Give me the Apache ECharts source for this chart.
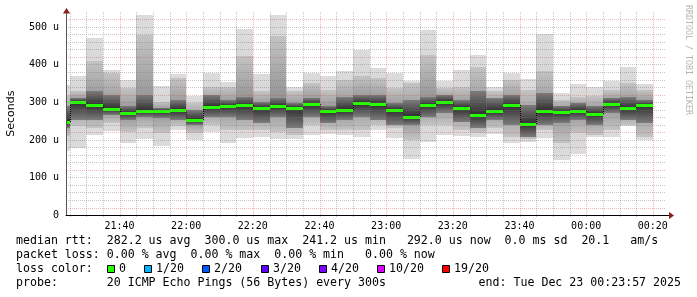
<!DOCTYPE html>
<html><head><meta charset="utf-8">
<script src="https://cdn.jsdelivr.net/npm/echarts@6/dist/echarts.min.js"></script>
<style>html,body{margin:0;padding:0;background:#fff}#c{width:697px;height:297px}</style>
</head><body><div id="c"></div>
<script>
// ---- data: one 5-minute step per entry (end time of the step) ----
const binEnd = ['21:25','21:30','21:35','21:40','21:45','21:50','21:55','22:00','22:05','22:10','22:15','22:20',
  '22:25','22:30','22:35','22:40','22:45','22:50','22:55','23:00','23:05','23:10','23:15','23:20',
  '23:25','23:30','23:35','23:40','23:45','23:50','23:55','00:00','00:05','00:10','00:15','00:20'];
// ping distribution per step (microseconds): min, inner quantiles, median, max
const rttMin = [170,178,214,225,191,202,183,227,200,220,193,205,207,202,202,213,216,213,209,227,206,150,196,213,211,207,216,191,196,205,147,163,209,207,236,200];
const rttLo1 = [210,236,231,245,222,231,218,236,218,240,227,227,227,222,214,240,227,227,227,240,231,200,240,240,227,218,231,209,202,227,192,218,213,227,240,209];
const rttLo2 = [232,253,253,267,253,262,258,253,240,262,262,253,245,262,231,262,245,253,262,253,240,240,262,271,249,231,253,240,208,240,245,253,240,271,253,245];
const rttMedian = [249,300.0,294,282,273,278,278,281,253,287,290,293,286,290,285,296,276,281,298,296,280,262,294,300,284,267,278,293,241.2,278,275,278,269,295,285,292];
const rttHi2 = [290,311,330,320,289,320,284,305,280,320,307,315,302,311,298,311,289,315,320,320,298,307,315,320,307,329,311,320,293,324,289,298,289,311,315,307];
const rttHi1 = [320,329,409,378,338,480,302,364,298,342,342,422,329,475,329,351,333,360,369,364,338,351,426,338,342,395,329,360,333,382,307,315,317,333,351,333];
const rttMax = [345,369,471,385,360,533,344,376,317,379,355,495,376,533,340,378,369,382,440,391,379,358,491,358,386,426,340,379,362,482,324,349,340,358,393,349];
const stepMinutes = 5;
const startTime = '21:23:57', endTime = '00:23:57';
const xTickLabels = ['21:40','22:00','22:20','22:40','23:00','23:20','23:40','00:00','00:20'];
const yTickValues = [0,100,200,300,400,500];
const yTickLabels = ['0','100 u','200 u','300 u','400 u','500 u'];
const lossLabels = ['0','1/20','2/20','3/20','4/20','10/20','19/20'];
const lossColors = ['#26ff00','#00b8ff','#0059ff','#5e00ff','#7e00ff','#dd00ff','#ff0000'];
const legendLines = [
  'median rtt:  282.2 us avg  300.0 us max  241.2 us min   292.0 us now  0.0 ms sd  20.1   am/s',
  'packet loss: 0.00 % avg  0.00 % max  0.00 % min   0.00 % now',
  'loss color:',
  'probe:       20 ICMP Echo Pings (56 Bytes) every 300s'
];
const endText = 'end: Tue Dec 23 00:23:57 2025';

// ---- helpers ----
function toMin(s){ const p = s.split(':').map(Number); let m = p[0]*60 + p[1] + (p[2]||0)/60; if (p[0] < 12) m += 1440; return m; }
function fmt(m){ m = Math.round(m) % 1440; const h = Math.floor(m/60), mm = m%60; return String(h).padStart(2,'0')+':'+String(mm).padStart(2,'0'); }
const xMin = toMin(startTime), xMax = toMin(endTime);
const xTickValues = xTickLabels.map(toMin);

// smoke shades: [edge colour, colour towards the median]
const SMOKE = [['#dcdcdc','#d2d2d2'], ['#c4c4c4','#8e8e8e'], ['#7c7c7c','#2e2e2e']];
const MEDIAN_COLOR = '#26ff00';
const MAJOR = 'rgba(220,60,60,0.36)';
const MINOR = 'rgba(120,120,120,0.42)';
const MONO = 'DejaVu Sans Mono';

const G = {left:66, top:12, width:600, height:203.3};

const smokeData = binEnd.map((t,i) => [toMin(t)-stepMinutes, toMin(t), rttMin[i], rttLo1[i], rttLo2[i], rttMedian[i], rttHi2[i], rttHi1[i], rttMax[i]]);
const gridTimes = [];
for (let t = Math.ceil(xMin/5)*5; t <= xMax; t += 5) gridTimes.push([t, 0]);

function renderSmoke(params, api){
  const i = params.dataIndex, cs = params.coordSys;
  const x0 = Math.round(api.coord([api.value(0), 0])[0]);
  const x1 = Math.round(api.coord([api.value(1), 0])[0]);
  const yOf = v => Math.round(api.coord([api.value(0), v])[1]);
  const ym = yOf(api.value(5));
  const kids = [];
  const band = (lo, hi, shades) => {
    const yt = yOf(hi), yb = yOf(lo);
    const r = echarts.graphic.clipRectByRect({x:x0, y:yt, width:x1-x0, height:yb-yt}, cs);
    if (!r) return;
    const o = Math.min(0.99, Math.max(0.01, (ym - yt) / Math.max(1, yb - yt)));
    const fill = new echarts.graphic.LinearGradient(0, yt, 0, yb, [
      {offset:0, color:shades[0]}, {offset:o, color:shades[1]}, {offset:1, color:shades[0]}], true);
    kids.push({type:'rect', shape:r, style:{fill:fill}});
  };
  band(api.value(2), api.value(8), SMOKE[0]);
  band(api.value(3), api.value(7), SMOKE[1]);
  band(api.value(4), api.value(6), SMOKE[2]);
  if (i > 0 && x0 > cs.x) {
    const yp = yOf(rttMedian[i-1]);
    if (yp !== ym) kids.push({type:'line', shape:{x1:x0+0.5, y1:yp, x2:x0+0.5, y2:ym}, style:{stroke:'#000', lineWidth:1, lineDash:[1,1]}});
  }
  const mr = echarts.graphic.clipRectByRect({x:x0, y:ym-1, width:x1-x0, height:3}, cs);
  if (mr) kids.push({type:'rect', shape:mr, style:{fill:MEDIAN_COLOR}});
  return {type:'group', children:kids};
}
function renderGrid(params, api){
  const cs = params.coordSys, t = api.value(0);
  const x = Math.round(api.coord([t, 0])[0]) + 0.5;
  return {type:'line', shape:{x1:x, y1:cs.y, x2:x, y2:cs.y+cs.height+2},
    style:{stroke: (Math.round(t) % 20 === 0) ? MAJOR : MINOR, lineWidth:1, lineDash:[1,1]}};
}

// ---- legend / decorations ----
const graphics = [];
const CW = 7.0, LX = 16, LY = [241, 255, 269, 283];
legendLines.forEach((s,k) => graphics.push({type:'text', x:LX, y:LY[k], silent:true,
  style:{text:s, fontFamily:MONO, fontSize:11.6, fill:'#000', verticalAlign:'middle', align:'left'}}));
graphics.push({type:'text', x:681, y:LY[3], silent:true,
  style:{text:endText, fontFamily:MONO, fontSize:11.6, fill:'#000', verticalAlign:'middle', align:'right'}});
let lx = LX + 13*CW;
lossLabels.forEach((lab,k) => {
  const sx = Math.round(lx);
  graphics.push({type:'rect', silent:true, shape:{x:sx+0.5, y:265.5, width:7, height:7},
    style:{fill:lossColors[k], stroke:'#000', lineWidth:1}});
  graphics.push({type:'text', x:sx+12, y:LY[2], silent:true,
    style:{text:lab, fontFamily:MONO, fontSize:11.6, fill:'#000', verticalAlign:'middle', align:'left'}});
  lx = lx + 12 + lab.length*CW + 2.6*CW;
});
graphics.push({type:'text', x:11, y:G.top + G.height/2, rotation:Math.PI/2, silent:true,
  style:{text:'Seconds', fontFamily:'DejaVu Sans', fontSize:11, fill:'#000', align:'center', verticalAlign:'middle'}});
graphics.push({type:'text', x:688, y:5, rotation:-Math.PI/2, silent:true,
  style:{text:'RRDTOOL / TOBI OETIKER', fontFamily:MONO, fontSize:8.3, fill:'#b4b4b4', align:'left', verticalAlign:'middle'}});
const axBottom = Math.floor(G.top + G.height) + 0.5;
graphics.push({type:'line', silent:true, shape:{x1:G.left+G.width, y1:axBottom, x2:G.left+G.width+4, y2:axBottom}, style:{stroke:'#000', lineWidth:1}});
graphics.push({type:'polygon', silent:true, shape:{points:[[669,axBottom-3.5],[669,axBottom+3.5],[674,axBottom]]}, style:{fill:'#8b1a1a'}});
graphics.push({type:'polygon', silent:true, shape:{points:[[G.left-3.5+0.5,13.5],[G.left+3.5+0.5,13.5],[G.left+0.5,8]]}, style:{fill:'#8b1a1a'}});

const chart = echarts.init(document.getElementById('c'), null, {renderer:'canvas'});
chart.setOption({
  animation:false,
  backgroundColor:'#fff',
  grid:{left:G.left, top:G.top, width:G.width, height:G.height, containLabel:false},
  xAxis:{type:'value', min:xMin, max:xMax, z:5,
    axisLine:{show:true, lineStyle:{color:'#000', width:1}},
    axisTick:{show:false},
    splitLine:{show:false},
    axisLabel:{customValues:xTickValues, margin:6, fontFamily:MONO, fontSize:10, color:'#000',
      formatter: v => { const k = xTickValues.findIndex(q => Math.abs(q-v) < 0.01); return k >= 0 ? xTickLabels[k] : fmt(v); }}},
  yAxis:{type:'value', min:0, max:540, interval:20, z:5,
    axisLine:{show:true, lineStyle:{color:'#555', width:1}},
    axisTick:{show:false},
    axisLabel:{margin:7, fontFamily:MONO, fontSize:10, color:'#000',
      formatter: v => { const k = yTickValues.indexOf(Math.round(v)); return k >= 0 ? yTickLabels[k] : ''; }},
    splitLine:{show:true, showMinLine:false, showMaxLine:false, lineStyle:{color:[MAJOR,MINOR,MINOR,MINOR,MINOR], type:[1,1], width:1}}},
  series:[
    {type:'custom', name:'smoke', renderItem:renderSmoke, data:smokeData, encode:{x:[0,1], y:[2,8]}, z:2, silent:true},
    {type:'custom', name:'grid', renderItem:renderGrid, data:gridTimes, encode:{x:0, y:1}, z:4, silent:true}
  ],
  graphic:graphics
});
</script></body></html>
